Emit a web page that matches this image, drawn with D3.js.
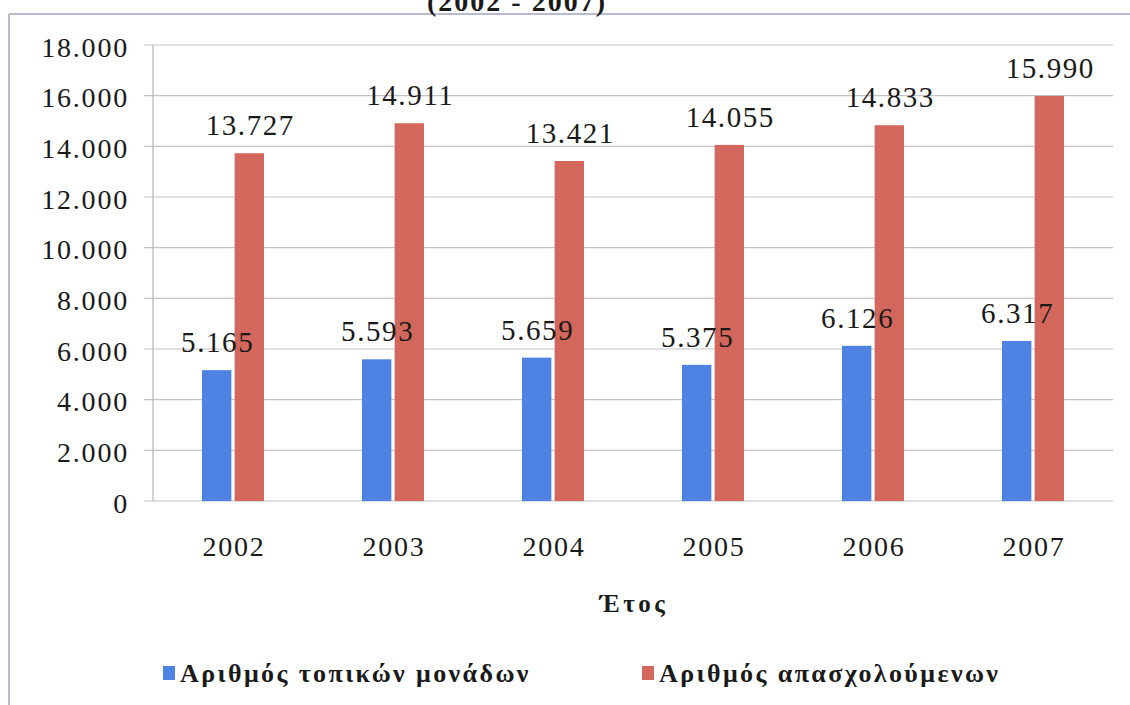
<!DOCTYPE html>
<html>
<head>
<meta charset="utf-8">
<script src="https://cdn.jsdelivr.net/npm/d3@7"></script>
<style>
  body { margin: 0; background: #fff; }
  svg { display: block; }
</style>
</head>
<body>
<div id="chart"></div>
<script>
// data
var years = ["2002", "2003", "2004", "2005", "2006", "2007"];
var units = [5165, 5593, 5659, 5375, 6126, 6317];        // Αριθμός τοπικών μονάδων
var employed = [13727, 14911, 13421, 14055, 14833, 15990]; // Αριθμός απασχολούμενων
var seriesNames = ["Αριθμός τοπικών μονάδων", "Αριθμός απασχολούμενων"];
var yTicks = [0, 2000, 4000, 6000, 8000, 10000, 12000, 14000, 16000, 18000];

var width = 1130, height = 705;
var colors = ["#4f83e3", "#d4675b"];

var loc = d3.formatLocale({ decimal: ",", thousands: ".", grouping: [3], currency: ["", ""] });
var fmt = loc.format(",d");

var svg = d3.select("#chart").append("svg")
  .attr("width", width).attr("height", height);

// serif face on every text; the scan is wide so spread the letters a bit
function label(sel, size, spacing, bold) {
  return sel.style("font-family", "'Liberation Serif'")
    .style("font-size", size + "px")
    .style("letter-spacing", spacing + "px")
    .style("font-weight", bold ? "bold" : "normal")
    .attr("fill", "#1a1a1a");
}

// frame of the figure (only left and top edges show)
svg.append("line").attr("x1", 9).attr("x2", 9).attr("y1", 14).attr("y2", height)
  .attr("stroke", "#b9b9cf").attr("stroke-width", 2);
svg.append("line").attr("x1", 9).attr("x2", width).attr("y1", 14).attr("y2", 14)
  .attr("stroke", "#b9b9cf").attr("stroke-width", 2);

// title, cut off at the top like in the scan
label(svg.append("text").attr("x", 517).attr("y", 11)
  .attr("text-anchor", "middle"), 28, 2, true)
  .text("(2002 - 2007)");

var x0 = d3.scaleBand().domain(years).range([153, 1113]);
var x1 = d3.scaleBand().domain([0, 1]).range([0, 62]).paddingInner(0.1);
var off = (x0.bandwidth() - 62) / 2;
var y = d3.scaleLinear().domain([0, 18000]).range([501, 45]);

// gridlines + tick marks
svg.append("g").selectAll("line").data(yTicks).join("line")
  .attr("x1", 144).attr("x2", 1113)
  .attr("y1", d => y(d)).attr("y2", d => y(d))
  .attr("stroke", "#c4c4cc").attr("stroke-width", 1.2);
svg.append("line").attr("x1", 153).attr("x2", 153).attr("y1", y(18000)).attr("y2", y(0))
  .attr("stroke", "#b4b4bc").attr("stroke-width", 1.2);

// y tick labels
label(svg.append("g").selectAll("text").data(yTicks).join("text")
  .attr("x", 129).attr("y", d => y(d) + 2)
  .attr("text-anchor", "end").attr("dominant-baseline", "central"), 28, 1.8)
  .text(d => fmt(d));

// x labels
label(svg.append("g").selectAll("text").data(years).join("text")
  .attr("x", d => x0(d) + x0.bandwidth() / 2 + 1).attr("y", 546)
  .attr("text-anchor", "middle").attr("dominant-baseline", "central"), 28, 1.8)
  .text(d => d);

label(svg.append("text").attr("x", 634).attr("y", 603)
  .attr("text-anchor", "middle").attr("dominant-baseline", "central"), 25, 3.5, true)
  .text("Έτος");

// bars first, then all value labels on top
var series = [units, employed];
var bars = svg.append("g");
var labels = svg.append("g");
series.forEach(function (vals, si) {
  bars.append("g").selectAll("rect").data(vals).join("rect")
    .attr("x", (d, i) => x0(years[i]) + off + x1(si))
    .attr("width", x1.bandwidth())
    .attr("y", d => y(d))
    .attr("height", d => y(0) - y(d))
    .attr("fill", colors[si]);
  label(labels.append("g").selectAll("text").data(vals).join("text")
    .attr("x", (d, i) => x0(years[i]) + off + x1(si) + x1.bandwidth() / 2 + 1)
    .attr("y", d => y(d) - 18)
    .attr("text-anchor", "middle"), 29, 1.6)
    .text(d => fmt(d));
});

// legend
var legX = [163, 642];
var leg = svg.append("g").selectAll("g").data(seriesNames).join("g")
  .attr("transform", (d, i) => "translate(" + legX[i] + ",673)");
leg.append("rect").attr("x", 0).attr("y", -7).attr("width", 12).attr("height", 14)
  .attr("fill", (d, i) => colors[i]);
label(leg.append("text").attr("x", 17).attr("y", 0)
  .attr("dominant-baseline", "central"), 26, 2.4, true)
  .text(d => d);
</script>
</body>
</html>
